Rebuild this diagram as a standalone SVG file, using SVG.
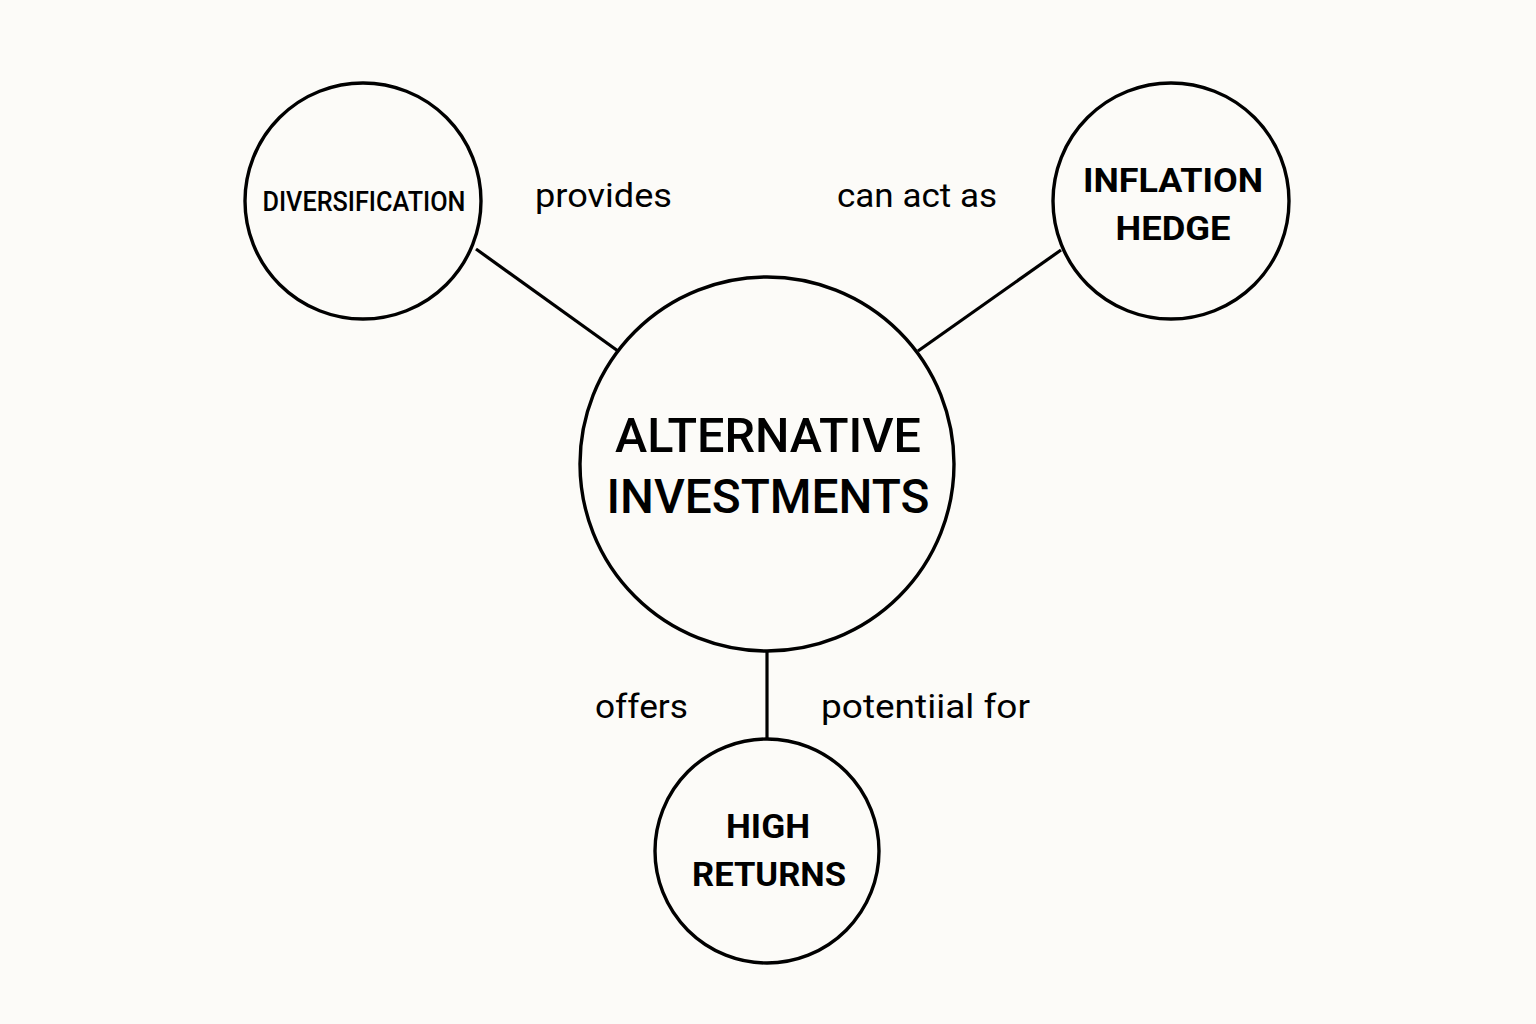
<svg xmlns="http://www.w3.org/2000/svg" width="1536" height="1024" viewBox="0 0 1536 1024">
<style>
.node{fill:none;stroke:#000;stroke-width:3.4}
.edge{stroke:#000;stroke-width:3.2;fill:none}
.t{font-family:Roboto,"Liberation Sans",sans-serif;fill:#000;text-anchor:middle}
.lbl{font-family:Roboto,"Liberation Sans",sans-serif;fill:#000;font-size:34px}
.b{font-weight:bold}
.m{font-weight:500}
</style>
<rect width="1536" height="1024" fill="#fcfbf8"/>
<g id="connectors">
<line class="edge" x1="476" y1="249" x2="618" y2="351"/>
<line class="edge" x1="1061" y1="250" x2="918" y2="351"/>
<line class="edge" x1="767" y1="652" x2="767" y2="740"/>
</g>
<g id="diversification">
<circle class="node" cx="363" cy="201" r="118"/>
<text class="t m" x="364" y="211" font-size="27" textLength="203" lengthAdjust="spacingAndGlyphs">DIVERSIFICATION</text>
</g>
<g id="inflation-hedge">
<circle class="node" cx="1171" cy="201" r="118"/>
<text class="t b" x="1173" y="192" font-size="34" textLength="180" lengthAdjust="spacingAndGlyphs">INFLATION</text>
<text class="t b" x="1173" y="240" font-size="34" textLength="115" lengthAdjust="spacingAndGlyphs">HEDGE</text>
</g>
<g id="alternative-investments">
<circle class="node" cx="767" cy="464" r="187"/>
<text class="t m" x="768" y="452" font-size="48" textLength="306" lengthAdjust="spacingAndGlyphs">ALTERNATIVE</text>
<text class="t m" x="768" y="513" font-size="48" textLength="323" lengthAdjust="spacingAndGlyphs">INVESTMENTS</text>
</g>
<g id="high-returns">
<circle class="node" cx="767" cy="851" r="112"/>
<text class="t b" x="768" y="838" font-size="33" textLength="84" lengthAdjust="spacingAndGlyphs">HIGH</text>
<text class="t b" x="769" y="886" font-size="33" textLength="154" lengthAdjust="spacingAndGlyphs">RETURNS</text>
</g>
<g id="labels">
<text class="lbl" x="535" y="207" textLength="137" lengthAdjust="spacingAndGlyphs">provides</text>
<text class="lbl" x="837" y="207" textLength="160" lengthAdjust="spacingAndGlyphs">can act as</text>
<text class="lbl" x="595" y="718" textLength="93" lengthAdjust="spacingAndGlyphs">offers</text>
<text class="lbl" x="821" y="718" textLength="209" lengthAdjust="spacingAndGlyphs">potentiial for</text>
</g>
</svg>
